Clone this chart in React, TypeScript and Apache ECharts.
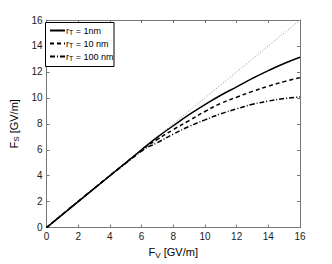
import React, { useEffect, useRef } from "react";
import * as echarts from "echarts";

const fv = [0, 6, 7, 8, 9, 10, 11, 12, 13, 14, 15, 16];
const fs1nm = [0, 6, 6.97, 7.85, 8.7, 9.47, 10.2, 10.85, 11.5, 12.1, 12.65, 13.13];
const fs10nm = [0, 5.97, 6.8, 7.55, 8.25, 8.95, 9.57, 10.05, 10.5, 10.9, 11.25, 11.56];
const fs100nm = [0, 5.9, 6.55, 7.2, 7.8, 8.3, 8.77, 9.15, 9.5, 9.75, 9.95, 10.07];
const refX = [0, 16];
const refY = [0, 16];
const seriesNames = ["r1", "r10", "r100"];
const legendLabels: Record<string, string> = {
  r1: "r{sub|T} = 1nm",
  r10: "r{sub|T} = 10 nm",
  r100: "r{sub|T} = 100 nm",
};

const font = "'Liberation Sans', Arial, sans-serif";

const zip = (xs: number[], ys: number[]) => xs.map((x, i) => [x, ys[i]]);

export default function App() {
  const ref = useRef<HTMLDivElement>(null);
  useEffect(() => {
    if (!ref.current) return;
    const chart = echarts.init(ref.current, undefined, { renderer: "svg" });
    const axisCommon = {
      min: 0,
      max: 16,
      interval: 2,
      axisLine: { show: true, onZero: false, lineStyle: { color: "#777", width: 1 } },
      axisTick: { show: true, inside: true, length: 3, lineStyle: { color: "#777" } },
      splitLine: { show: false },
      axisLabel: { color: "#222", fontSize: 10, fontFamily: font, margin: 4 },
    };
    const mirror = {
      min: 0,
      max: 16,
      interval: 2,
      axisLine: { show: true, onZero: false, lineStyle: { color: "#777", width: 1 } },
      axisTick: { show: true, inside: true, length: 3, lineStyle: { color: "#777" } },
      axisLabel: { show: false },
      splitLine: { show: false },
    };
    const nameRich = {
      sub: { fontSize: 8, verticalAlign: "bottom", padding: [6, 0, 0, 0], fontFamily: font, color: "#000" },
    };
    const lineSeries = (name: string, data: number[], type: any) => ({
      name,
      type: "line",
      data: zip(fv, data),
      showSymbol: false,
      symbol: "none",
      smooth: true,
      color: "#000",
      itemStyle: { color: "#000" },
      lineStyle: { color: "#000", width: 1.5, type },
    });
    chart.setOption({
      animation: false,
      grid: { left: 43, right: 32, top: 20, bottom: 30 },
      graphic: [
        {
          type: "rect",
          z: 3,
          shape: { x: 45.5, y: 22.5, width: 68.5, height: 44 },
          style: { fill: "#fff", stroke: "#000", lineWidth: 1 },
        },
      ],
      xAxis: [
        {
          type: "value",
          ...axisCommon,
          name: "F{sub|V} [GV/m]",
          nameLocation: "middle",
          nameGap: 16,
          nameTextStyle: { color: "#000", fontSize: 11, fontFamily: font, rich: nameRich },
        },
        { type: "value", position: "top", ...mirror },
      ],
      yAxis: [
        {
          type: "value",
          ...axisCommon,
          name: "F{sub|S} [GV/m]",
          nameLocation: "middle",
          nameGap: 16,
          nameTextStyle: { color: "#000", fontSize: 11, fontFamily: font, rich: nameRich },
        },
        { type: "value", position: "right", ...mirror },
      ],
      legend: {
        data: seriesNames,
        left: 46,
        top: 22,
        z: 10,
        orient: "vertical",
        itemWidth: 15,
        itemHeight: 8,
        itemGap: 3,
        padding: [4, 2, 4, 3],
        itemStyle: { color: "transparent", borderColor: "transparent", borderWidth: 0 },
        formatter: (n: string) => legendLabels[n],
        textStyle: {
          fontSize: 9,
          fontFamily: font,
          color: "#000",
          padding: [0, 0, 0, -4],
          rich: {
            sub: { fontSize: 7, verticalAlign: "bottom", padding: [4, 0, 0, 0], fontFamily: font, color: "#000" },
          },
        },
      },
      series: [
        {
          name: "ref",
          type: "line",
          data: zip(refX, refY),
          showSymbol: false,
          symbol: "none",
          color: "#888",
          lineStyle: { color: "#888", width: 1, type: [1, 2] },
        },
        lineSeries("r1", fs1nm, "solid"),
        lineSeries("r10", fs10nm, [4, 3]),
        lineSeries("r100", fs100nm, [5, 2, 1, 2]),
      ],
    });
    return () => chart.dispose();
  }, []);
  return <div ref={ref} style={{ width: 332, height: 264, position: "absolute", left: 0, top: 0, background: "#fff" }} />;
}
